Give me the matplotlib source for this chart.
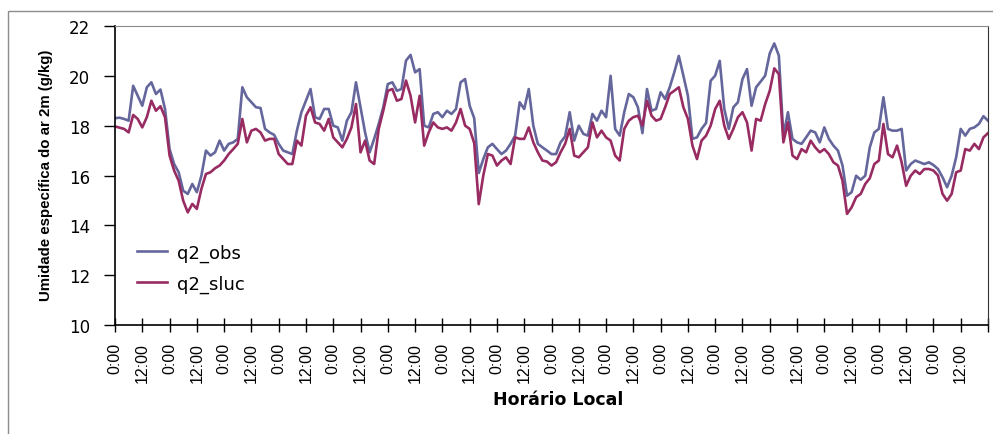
import matplotlib
matplotlib.use("Agg")
import matplotlib.pyplot as plt
from matplotlib import font_manager
from matplotlib.patches import Rectangle
import numpy as np

# Specific humidity at 2 m (g/kg), sampled every 2 hours over 16 days
step_hours = 2
q2_obs = [
    18.30, 18.32, 18.27, 18.20, 19.60, 19.20, 18.80, 19.54, 19.74, 19.27, 19.45, 18.67, 17.06, 16.46, 16.13, 15.39,
    15.26, 15.66, 15.33, 15.99, 17.00, 16.80, 16.93, 17.40, 17.00, 17.27, 17.33, 17.47, 19.54, 19.14, 18.94, 18.74,
    18.71, 17.87, 17.73, 17.63, 17.27, 17.00, 16.93, 16.86, 17.80, 18.54, 19.00, 19.47, 18.34, 18.27, 18.67, 18.67,
    18.00, 17.93, 17.40, 18.20, 18.54, 19.74, 18.74, 17.73, 16.93, 17.47, 18.07, 18.74, 19.67, 19.74, 19.40, 19.47,
    20.61, 20.84, 20.14, 20.27, 18.00, 17.93, 18.47, 18.54, 18.34, 18.60, 18.47, 18.67, 19.74, 19.87, 18.80, 18.30,
    16.10, 16.66, 17.13, 17.27, 17.06, 16.86, 17.00, 17.27, 17.60, 18.94, 18.67, 19.47, 18.00, 17.27, 17.13, 17.00,
    16.86, 16.86, 17.33, 17.57, 18.54, 17.40, 18.00, 17.67, 17.60, 18.47, 18.20, 18.60, 18.34, 20.00, 17.87, 17.60,
    18.54, 19.27, 19.14, 18.74, 17.70, 19.47, 18.60, 18.67, 19.34, 19.07, 19.54, 20.14, 20.80, 20.01, 19.20, 17.47,
    17.53, 17.87, 18.11, 19.80, 20.01, 20.60, 18.67, 17.87, 18.74, 18.94, 19.87, 20.27, 18.80, 19.54, 19.77, 20.01,
    20.90, 21.30, 20.81, 17.60, 18.54, 17.47, 17.33, 17.27, 17.53, 17.80, 17.73, 17.33, 17.93, 17.47, 17.20, 17.00,
    16.40, 15.19, 15.33, 15.99, 15.83, 15.99, 17.13, 17.73, 17.87, 19.14, 17.87, 17.80, 17.80, 17.87, 16.20, 16.46,
    16.60, 16.53, 16.46, 16.53, 16.42, 16.26, 15.93, 15.53, 15.99, 16.73, 17.87, 17.60, 17.87, 17.93, 18.07, 18.38,
    18.20,
]
q2_sluc = [
    17.97, 17.92, 17.87, 17.73, 18.43, 18.27, 17.93, 18.34, 19.00, 18.60, 18.78, 18.34, 16.80, 16.20, 15.79, 14.99,
    14.52, 14.86, 14.66, 15.46, 16.06, 16.13, 16.29, 16.40, 16.60, 16.86, 17.06, 17.27, 18.27, 17.33, 17.80, 17.87,
    17.73, 17.40, 17.47, 17.47, 16.86, 16.66, 16.46, 16.46, 17.40, 17.20, 18.40, 18.74, 18.13, 18.07, 17.80, 18.27,
    17.53, 17.33, 17.13, 17.47, 17.93, 18.87, 16.93, 17.40, 16.60, 16.46, 17.87, 18.60, 19.40, 19.47, 19.00, 19.07,
    19.81, 19.20, 18.13, 19.20, 17.20, 17.73, 18.13, 17.93, 17.87, 17.93, 17.80, 18.13, 18.67, 18.00, 17.87, 17.30,
    14.85, 16.00, 16.86, 16.80, 16.40, 16.60, 16.73, 16.46, 17.53, 17.47, 17.47, 17.93, 17.33, 16.93, 16.60, 16.56,
    16.40, 16.53, 16.93, 17.27, 17.87, 16.80, 16.73, 16.93, 17.13, 18.13, 17.53, 17.80, 17.53, 17.40, 16.80, 16.60,
    17.87, 18.20, 18.34, 18.40, 18.00, 19.00, 18.40, 18.20, 18.27, 18.74, 19.27, 19.40, 19.54, 18.74, 18.27, 17.20,
    16.66, 17.40, 17.60, 18.00, 18.67, 19.00, 18.00, 17.47, 17.87, 18.34, 18.54, 18.13, 17.00, 18.27, 18.20, 18.87,
    19.40, 20.30, 20.07, 17.33, 18.13, 16.80, 16.66, 17.06, 16.93, 17.40, 17.13, 16.93, 17.06, 16.86, 16.53, 16.40,
    15.79, 14.46, 14.72, 15.13, 15.26, 15.66, 15.89, 16.46, 16.60, 18.07, 16.86, 16.73, 17.20, 16.53, 15.59, 15.99,
    16.20, 16.06, 16.26, 16.26, 16.20, 16.00, 15.26, 14.99, 15.26, 16.13, 16.20, 17.06, 17.00, 17.27, 17.06, 17.53,
    17.70,
]
n_days = 16
tick_labels = ["0:00", "12:00"] * n_days
series_names = ["q2_obs", "q2_sluc"]
series_colors = ["#65669c", "#982c62"]
y_label = "Umidade específica do ar 2m (g/kg)"
x_label = "Horário Local"

available = {f.name for f in font_manager.fontManager.ttflist}


def pick(*names):
    for n in names:
        if n in available:
            return n
    return "DejaVu Sans"


narrow = pick("Liberation Sans Narrow", "DejaVu Sans Condensed", "Liberation Sans")
wide = "DejaVu Sans"

hours = np.arange(len(q2_obs)) * step_hours

fig = plt.figure(figsize=(9.93, 4.35), dpi=100)
ax = fig.add_axes([115 / 993, 1 - 326 / 435, (988 - 115) / 993, (326 - 27) / 435])

for vals, name, col in zip([q2_obs, q2_sluc], series_names, series_colors):
    ax.plot(hours, vals, color=col, lw=1.9, label=name, solid_joinstyle="round")

ax.set_xlim(0, n_days * 24)
ax.set_ylim(10, 22)
ax.set_yticks(np.arange(10, 23, 2))
ax.set_xticks(np.arange(0, n_days * 24 + 1, 12))
ax.set_xticklabels(tick_labels + [""], rotation=90, fontfamily=narrow, fontsize=11.5)
ax.tick_params(axis="x", direction="inout", length=10, width=1, pad=7)
ax.tick_params(axis="y", direction="out", length=8, width=1, labelsize=12, pad=10)
for lab in ax.get_yticklabels():
    lab.set_fontfamily(wide)

for side in ["left", "bottom"]:
    ax.spines[side].set_color("black")
    ax.spines[side].set_linewidth(1.2)
ax.spines["top"].set_color("#8a8a8a")
ax.spines["right"].set_color("#333333")

ax.set_xlabel(x_label, fontfamily=wide, fontweight="bold", fontsize=12.5)
ax.xaxis.set_label_coords((558 - 115) / 873, -(391 - 326) / 299)
ax.set_ylabel(y_label, fontfamily=narrow, fontweight="bold", fontsize=10.8)
ax.yaxis.set_label_coords((53 - 115) / 873, (326 - 175) / 299)

leg = ax.legend(loc="upper left", bbox_to_anchor=(0.0, 0.345), frameon=False,
                prop={"family": wide, "size": 13}, handlelength=1.7, handletextpad=0.55,
                labelspacing=0.7, borderaxespad=0.8)

# outer chart frame
fig.patches.append(Rectangle((8 / 993, -0.05), 1.1, 0.05 + (435 - 12) / 435,
                             transform=fig.transFigure, fill=False,
                             edgecolor="#8c8c8c", lw=1.0))

fig.savefig("out.png", dpi=100)
